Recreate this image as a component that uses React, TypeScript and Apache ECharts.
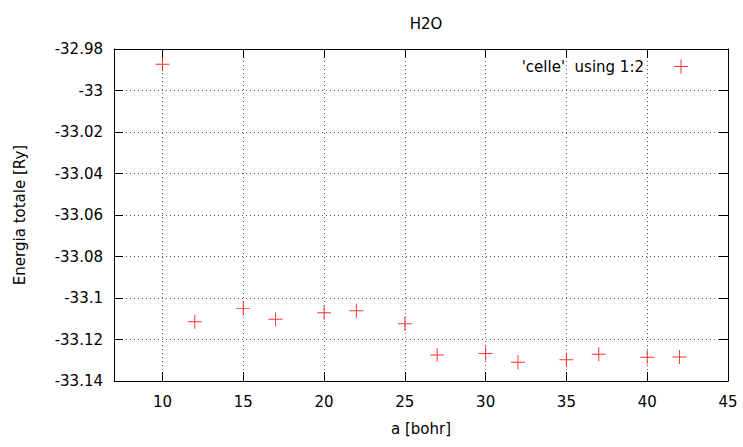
import React, { useEffect, useRef } from "react";
import * as echarts from "echarts";

// Lattice parameter a [bohr] and total energy [Ry] for the H2O cells
const latticeA = [10, 12, 15, 17, 20, 22, 25, 27, 30, 32, 35, 37, 40, 42];
const energyRy = [
  -32.9874, -33.1114, -33.105, -33.1103, -33.1071, -33.1061, -33.1124,
  -33.1275, -33.1268, -33.131, -33.1297, -33.1271, -33.1286, -33.1284,
];
const xTicks = [10, 15, 20, 25, 30, 35, 40, 45];
const seriesName = "'celle'  using 1:2";

const FONT = "DejaVu Sans";
const PLUS = "path://M0,6.5H14V7.5H0Z M6.5,0H7.5V14H6.5Z";

export default function App() {
  const ref = useRef<HTMLDivElement>(null);

  useEffect(() => {
    if (!ref.current) return;
    const chart = echarts.init(ref.current, null, { renderer: "svg" });
    const points = latticeA.map((a, i) => [a, energyRy[i]]);

    const frameLine = { show: true, onZero: false, lineStyle: { color: "#000", width: 1 } };
    const gridLine = { show: true, lineStyle: { color: "#555", width: 1, type: [1, 3] as number[] } };
    const tick = { show: true, inside: true, length: 9, lineStyle: { color: "#000", width: 1 } };

    chart.setOption({
      animation: false,
      backgroundColor: "#fff",
      textStyle: { fontFamily: FONT },
      title: {
        text: "H2O",
        left: 421,
        textAlign: "center",
        top: 11,
        textStyle: { fontFamily: FONT, fontSize: 15, fontWeight: "normal", color: "#000" },
      },
      legend: {
        data: [{ name: seriesName, icon: PLUS }],
        right: 55,
        top: 59,
        padding: 0,
        align: "right",
        itemWidth: 14,
        itemHeight: 14,
        selectedMode: false,
        textStyle: { fontFamily: FONT, fontSize: 15, color: "#000", padding: [0, 25, 0, 0] },
      },
      grid: { left: 114, right: 15, top: 49, bottom: 66, containLabel: false },
      xAxis: [
        {
          type: "value",
          min: 7,
          max: 45,
          name: "a [bohr]",
          nameLocation: "middle",
          nameGap: 40,
          nameTextStyle: { fontFamily: FONT, fontSize: 15, color: "#000" },
          axisLine: frameLine,
          axisTick: { ...tick, customValues: xTicks },
          axisLabel: { customValues: xTicks, margin: 13, fontFamily: FONT, fontSize: 15, color: "#000" },
          splitLine: gridLine,
        },
        {
          type: "value",
          min: 7,
          max: 45,
          position: "top",
          axisLine: frameLine,
          axisTick: { ...tick, customValues: xTicks },
          axisLabel: { show: false },
          splitLine: { show: false },
        },
      ],
      yAxis: [
        {
          type: "value",
          min: -33.14,
          max: -32.98,
          interval: 0.02,
          name: "Energia totale [Ry]",
          nameLocation: "middle",
          nameGap: 87,
          nameTextStyle: { fontFamily: FONT, fontSize: 15, color: "#000" },
          axisLine: frameLine,
          axisTick: tick,
          axisLabel: { margin: 11, fontFamily: FONT, fontSize: 15, color: "#000" },
          splitLine: gridLine,
        },
        {
          type: "value",
          min: -33.14,
          max: -32.98,
          interval: 0.02,
          position: "right",
          axisLine: frameLine,
          axisTick: tick,
          axisLabel: { show: false },
          splitLine: { show: false },
        },
      ],
      series: [
        {
          name: seriesName,
          type: "scatter",
          data: points,
          symbol: PLUS,
          symbolSize: 14,
          itemStyle: { color: "#ff0000" },
        },
      ],
    });

    return () => chart.dispose();
  }, []);

  return (
    <div
      ref={ref}
      style={{ position: "fixed", left: 0, top: 0, width: 743, height: 447 }}
    />
  );
}
